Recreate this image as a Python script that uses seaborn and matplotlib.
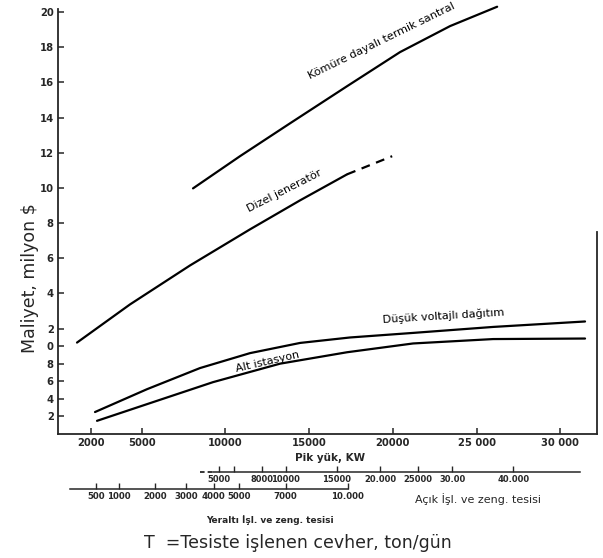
import numpy as np
import matplotlib
matplotlib.use("Agg")
import matplotlib.pyplot as plt
import matplotlib.transforms as mtransforms
import seaborn as sns

# ---- data: cost (million $) versus peak load (kW) ----
coal_kw = [8065, 10870, 13860, 17265, 20430, 23420, 26230]
coal_cost = [9.97, 11.8, 13.67, 15.78, 17.72, 19.2, 20.3]

diesel_kw = [1135, 4300, 7890, 11470, 14460, 17270]
diesel_cost = [1.2, 3.37, 5.59, 7.64, 9.29, 10.77]
diesel_ext_kw = [17270, 19960]
diesel_ext_cost = [10.77, 11.8]

lowvolt_kw = [2210, 5320, 8480, 11470, 14460, 17440, 21210, 25990, 31480]
lowvolt_cost = [0.25, 0.51, 0.75, 0.92, 1.18, 1.49, 1.75, 2.09, 2.40]

subst_kw = [2330, 5320, 9260, 13260, 17265, 21210, 25990, 31480]
subst_cost = [0.15, 0.34, 0.59, 0.80, 0.93, 1.15, 1.40, 1.43]

# ---- axis ticks ----
x_ticks = [2000, 5000, 10000, 15000, 20000, 25000, 30000]
x_labels = ["2000", "5000", "10000", "15000", "20000", "25 000", "30 000"]
y_ticks = [20, 18, 16, 14, 12, 10, 8, 6, 4, 2, 1.0, 0.8, 0.6, 0.4, 0.2]
y_labels = ["20", "18", "16", "14", "12", "10", "8", "6", "4", "2",
            "0", "8", "6", "4", "2"]

# tonnage scales (ton/day)
open_ticks = [5000, 6000, 8000, 10000, 15000, 20000, 25000, 30000, 40000]
open_labels = ["5000", "", "8000", "10000", "15000", "20.000", "25000",
               "30.00", "40.000"]
under_ticks = [500, 1000, 2000, 3000, 4000, 5000, 7000, 10000]
under_labels = ["500", "1000", "2000", "3000", "4000", "5000", "7000",
                "10.000"]


# piecewise cost scale: 0-1 expanded fivefold, above 1 linear
def cost_fwd(y):
    y = np.asarray(y, dtype=float)
    return np.where(y < 1, 5 * y, y + 4)


def cost_inv(t):
    t = np.asarray(t, dtype=float)
    return np.where(t < 5, t / 5, t - 4)


# peak load <-> ore throughput relations
def kw_to_open(kw):
    return (np.clip(kw, 0, None) / 136.0) ** 2


def open_to_kw(t):
    return 136.0 * np.sqrt(np.clip(t, 0, None))


def kw_to_under(kw):
    return (np.clip(kw, 1e-9, None) / 33.0) ** (1 / 0.68)


def under_to_kw(t):
    return 33.0 * np.clip(t, 0, None) ** 0.68


sns.set_style("ticks")
plt.rcParams["font.family"] = ["DejaVu Sans"]

fig = plt.figure(figsize=(6.03, 5.58), dpi=100)
ax = fig.add_axes([0.0962, 0.2222, 0.894, 0.761])
ax.set_yscale("function", functions=(cost_fwd, cost_inv))

lw = 1.6
sns.lineplot(x=coal_kw, y=coal_cost, ax=ax, color="black", lw=lw,
             clip_on=False)
sns.lineplot(x=diesel_kw, y=diesel_cost, ax=ax, color="black", lw=lw)
sns.lineplot(x=diesel_ext_kw, y=diesel_ext_cost, ax=ax, color="black",
             lw=lw, linestyle=(0, (4, 3)))
sns.lineplot(x=lowvolt_kw, y=lowvolt_cost, ax=ax, color="black", lw=lw)
sns.lineplot(x=subst_kw, y=subst_cost, ax=ax, color="black", lw=lw)

ax.set_xlim(0, 32200)
ax.set_ylim(0, 20.15)
ax.set_xticks(x_ticks, labels=x_labels)
ax.set_yticks(y_ticks, labels=y_labels)
ax.minorticks_off()
ax.tick_params(axis="both", direction="in", length=4, width=1.1,
               labelsize=7.2, pad=3)
for lab in ax.get_xticklabels() + ax.get_yticklabels():
    lab.set_fontweight("bold")

for side in ["left", "bottom", "right"]:
    ax.spines[side].set_linewidth(1.3)
ax.spines["top"].set_visible(False)
ax.spines["right"].set_bounds(0, 7.5)
ax.set_xlabel("")
ax.set_ylabel("")

# curve labels
lab_kw = dict(fontsize=8, color="black", ha="center", va="center",
              rotation_mode="anchor")
ax.text(19300, 18.35, "Kömüre dayalı termik santral", rotation=26, **lab_kw)
ax.text(13500, 9.85, "Dizel jeneratör", rotation=27, **lab_kw)
ax.text(23000, 2.72, "Düşük voltajlı dağıtım", rotation=3.5, **lab_kw)
ax.text(12500, 0.82, "Alt istasyon", rotation=13, **lab_kw)

# open-pit plant throughput scale
open_loc = -0.0895
sec_open = ax.secondary_xaxis(open_loc, functions=(kw_to_open, open_to_kw))
sec_open.set_xticks(open_ticks, labels=open_labels)
sec_open.spines["bottom"].set_bounds(4640, 52600)
sec_open.spines["bottom"].set_linewidth(1.1)
sec_open.tick_params(direction="in", length=4, width=1, labelsize=6, pad=2)
for lab in sec_open.get_xticklabels():
    lab.set_fontweight("bold")
blend = mtransforms.blended_transform_factory(ax.transData, ax.transAxes)
ax.plot(open_to_kw(np.array([3900, 4640])), [open_loc, open_loc],
        transform=blend, color="black", lw=1.1, ls=(0, (3, 2)), clip_on=False)

# underground plant throughput scale
under_loc = -0.1296
sec_under = ax.secondary_xaxis(under_loc, functions=(kw_to_under, under_to_kw))
sec_under.set_xticks(under_ticks, labels=under_labels)
sec_under.spines["bottom"].set_bounds(90, 10000)
sec_under.spines["bottom"].set_linewidth(1.1)
sec_under.tick_params(direction="in", length=4, width=1, labelsize=6.2, pad=2)
for lab in sec_under.get_xticklabels():
    lab.set_fontweight("bold")

# axis titles and scale captions
fig.text(30 / 603, 1 - 278 / 558, "Maliyet, milyon $", rotation=90,
         fontsize=12.5, ha="center", va="center")
fig.text(330 / 603, 1 - 458 / 558, "Pik yük, KW", fontsize=7.5,
         fontweight="bold", ha="center", va="center")
fig.text(478 / 603, 1 - 499 / 558, "Açık İşl. ve zeng. tesisi", fontsize=8,
         ha="center", va="center")
fig.text(270 / 603, 1 - 520 / 558, "Yeraltı İşl. ve zeng. tesisi",
         fontsize=6.5, fontweight="bold", ha="center", va="center")
fig.text(298 / 603, 1 - 543 / 558, "T  =Tesiste işlenen cevher, ton/gün",
         fontsize=12.5, ha="center", va="center")

fig.savefig("out.png", dpi=100, facecolor="white")
